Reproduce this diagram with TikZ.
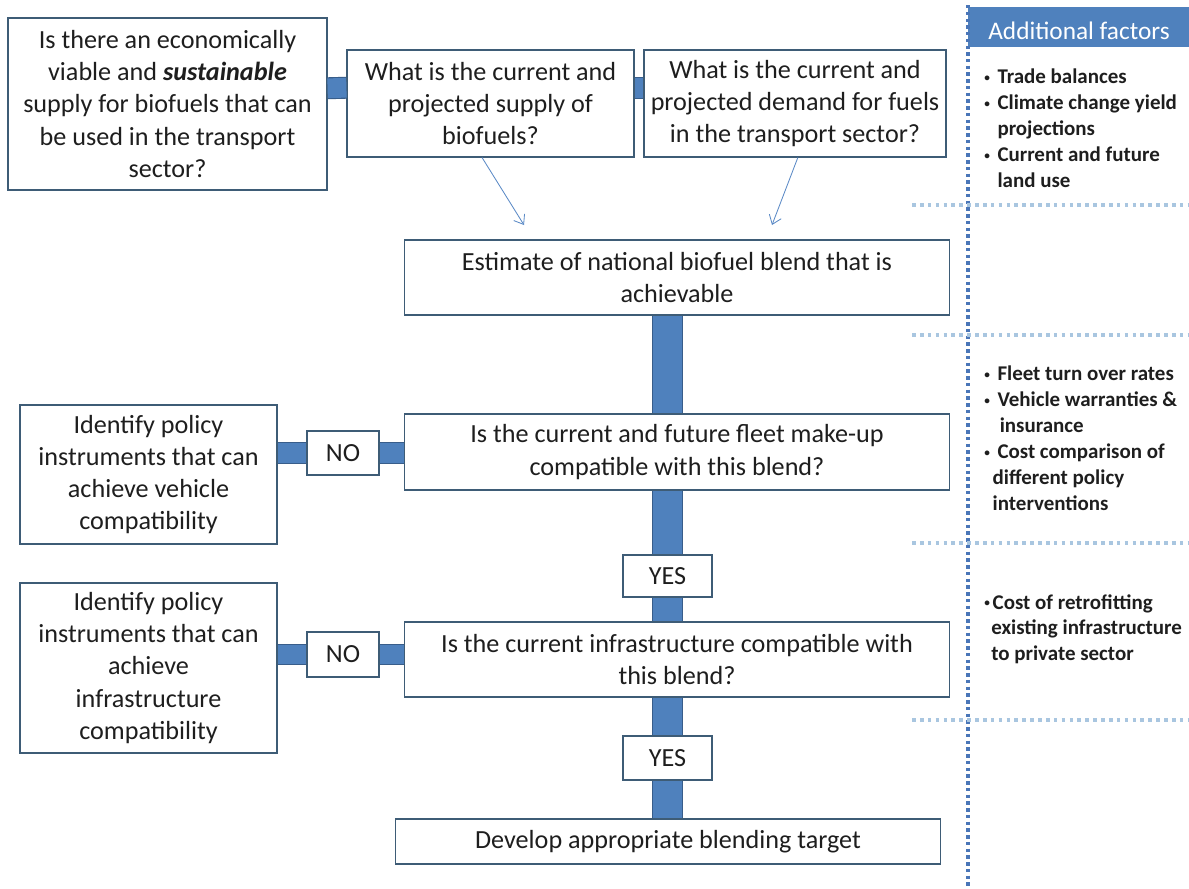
\documentclass[tikz,border=0pt]{standalone}
\usepackage{fontspec}
\setmainfont{Carlito}
\usetikzlibrary{arrows.meta}
\definecolor{barfill}{HTML}{4F81BD}
\definecolor{barline}{HTML}{385D8A}
\definecolor{boxline}{HTML}{3E5C76}
\definecolor{txt}{HTML}{1E1E1E}
\definecolor{arrowc}{HTML}{5B8AC6}
\definecolor{vrule}{HTML}{4A76B8}
\definecolor{hrule}{HTML}{A9C6E0}
\newcommand\dotmark{\raisebox{1.6pt}{\fontsize{8}{8}\selectfont\textbullet}}
\newcommand\bul{\makebox[9.4pt][l]{\dotmark}}
\begin{document}
\begin{tikzpicture}[x=0.025cm,y=-0.025cm,
  box/.style={draw=boxline, fill=white, line width=0.8pt, align=center, inner sep=0pt, text=txt, font=\fontsize{18.6}{22.8}\selectfont},
  hbar/.style={draw=barline, line width=0.8pt, double=barfill, double distance=14pt},
  vbar/.style={draw=barline, line width=0.8pt, double=barfill, double distance=20.4pt},
  feed/.style={draw=arrowc, line width=0.6pt, -{Straight Barb[length=6pt,width=9pt]}},
  side/.style={anchor=north west, align=left, inner sep=0pt, text=txt, font=\bfseries\fontsize{14.9}{18.35}\selectfont}]
\useasboundingbox (0,0) rectangle (1189,888);
% questions on supply and demand
\node[box, minimum width=7.975cm, minimum height=4.3cm] (q1) at (167.5,104) {Is there an economically\\viable and \textbf{\textit{sustainable}}\\supply for biofuels that can\\be used in the transport\\sector?};
\node[box, minimum width=7.175cm, minimum height=2.675cm] (q2) at (490.5,103.5) {What is the current and\\projected supply of\\biofuels?};
\node[box, minimum width=7.55cm, minimum height=2.675cm] (q3) at (795,103.5) {What is the current and\\projected demand for fuels\\in the transport sector?};
\draw[hbar] ([yshift=11.2pt]q1.east) -- ([yshift=11.2pt]q2.west);
\draw[hbar] ([yshift=11.2pt]q2.east) -- ([yshift=11.2pt]q3.west);
% main column
\node[box, minimum width=13.6cm, minimum height=1.875cm] (est) at (677,277.5) {Estimate of national biofuel blend that is\\achievable};
\coordinate (in1) at (524,225);
\coordinate (in2) at (772,225);
\draw[feed] ([xshift=-6pt]q2.south) -- (in1);
\draw[feed] ([xshift=2pt]q3.south) -- (in2);
\node[box, minimum width=13.6cm, minimum height=1.9cm] (fleet) at (677,452) {Is the current and future fleet make-up\\compatible with this blend?};
\node[box, minimum width=2.225cm, minimum height=1.05cm] (yes1) at (667.5,576) {YES};
\node[box, minimum width=13.6cm, minimum height=1.875cm] (infra) at (677,659.5) {Is the current infrastructure compatible with\\this blend?};
\node[box, minimum width=2.225cm, minimum height=1.1cm] (yes2) at (667.5,758) {YES};
\node[box, minimum width=13.6cm, minimum height=1.125cm] (dev) at (668,841.5) {Develop appropriate blending target};
\draw[vbar] (yes1.north |- est.south) -- (yes1.north |- fleet.north);
\draw[vbar] (yes1.north |- fleet.south) -- (yes1.north);
\draw[vbar] (yes1.south) -- (yes1.south |- infra.north);
\draw[vbar] (yes2.north |- infra.south) -- (yes2.north);
\draw[vbar] (yes2.south) -- (yes2.south |- dev.north);
% policy branches
\node[box, minimum width=6.425cm, minimum height=3.475cm] (pol1) at (148.5,474.5) {Identify policy\\instruments that can\\achieve vehicle\\compatibility};
\node[box, minimum width=1.8cm, minimum height=1.1cm] (no1) at (343,453) {NO};
\draw[hbar] (no1.west -| pol1.east) -- (no1.west);
\draw[hbar] (no1.east) -- (no1.east -| fleet.west);
\node[box, minimum width=6.425cm, minimum height=4.25cm] (pol2) at (148.5,668) {Identify policy\\instruments that can\\achieve\\infrastructure\\compatibility};
\node[box, minimum width=1.8cm, minimum height=1.125cm] (no2) at (343,654.5) {NO};
\draw[hbar] (no2.west -| pol2.east) -- (no2.west);
\draw[hbar] (no2.east) -- (no2.east -| infra.west);
% additional factors panel
\fill[barfill] (968,7) rectangle (1189,47);
\node[text=white, font=\fontsize{18}{22}\selectfont] (hdr) at (1079,31) {Additional factors};
\draw[vrule, line width=2.4pt, dash pattern=on 2.4pt off 2.4pt] (968,5) -- (968,888);
\foreach \y in {205,335,543,720}
  \draw[hrule, line width=2.4pt, dash pattern=on 2.6pt off 3pt] (912,\y) -- (1189,\y);
\node[side] (f1) at (984,69) {\bul Trade balances\\\bul Climate change yield\\\hspace*{9.4pt}projections\\\bul Current and future\\\hspace*{9.4pt}land use};
\node[side] (f2) at (984,366) {\bul Fleet turn over rates\\\bul Vehicle warranties \&\\\hspace*{11pt}insurance\\\bul Cost comparison of\\\hspace*{6pt}different policy\\\hspace*{6pt}interventions};
\node[side] (f3) at (984,594) {\makebox[6pt][l]{\dotmark}Cost of retrofitting\\\hspace*{5pt}existing infrastructure\\\hspace*{5pt}to private sector};
\end{tikzpicture}
\end{document}
